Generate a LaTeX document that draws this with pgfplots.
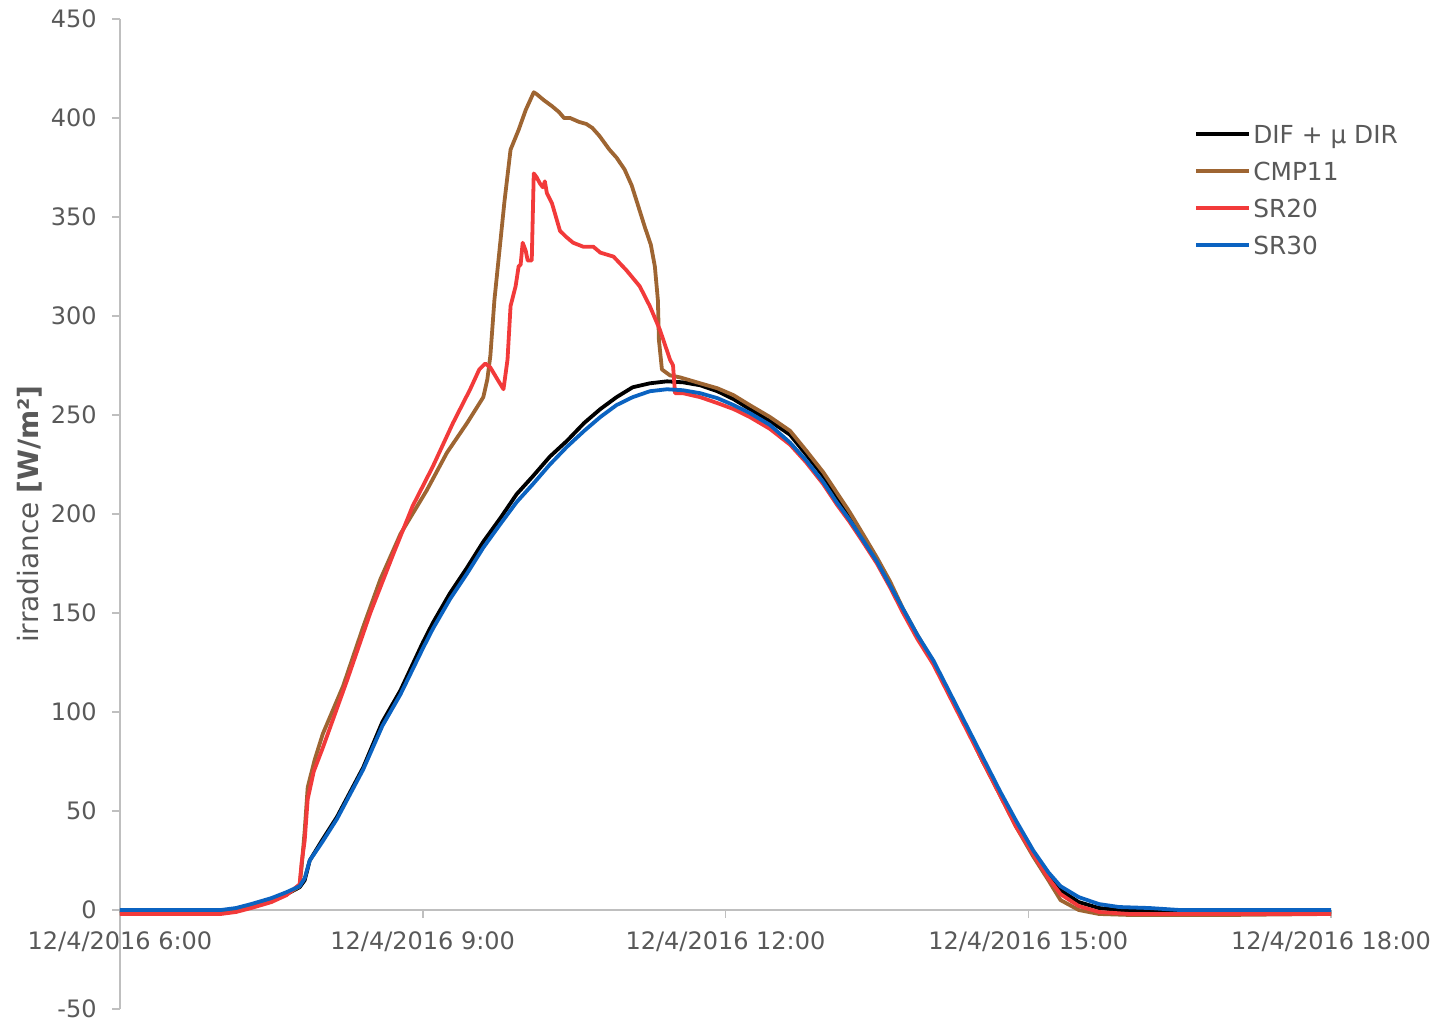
\documentclass[border=0pt]{standalone}
\usepackage{pgfplots}
\pgfplotsset{compat=1.18}
\usepackage{fontspec}
\setmainfont{DejaVu Sans}
\definecolor{txtgray}{HTML}{595959}
\definecolor{axgray}{HTML}{BFBFBF}
\definecolor{cmpbrown}{HTML}{9E6532}
\definecolor{srred}{HTML}{F23A3A}
\definecolor{srblue}{HTML}{0B63C1}
\begin{document}
\begin{tikzpicture}
\begin{axis}[
  name=ax,
  scale only axis,
  width=605.5pt, height=495pt,
  xmin=6, xmax=18, ymin=-50, ymax=450,
  axis x line*=middle, axis y line*=left,
  hide obscured x ticks=false,
  axis line style={axgray, line width=0.75pt},
  xtick={6,9,12,15,18},
  xticklabels={12/4/2016 6:00,12/4/2016 9:00,12/4/2016 12:00,12/4/2016 15:00,12/4/2016 18:00},
  ytick={-50,0,50,100,150,200,250,300,350,400,450},
  yticklabels={-50,0,50,100,150,200,250,300,350,400,450},
  tick align=outside,
  major tick length=4pt,
  tick style={axgray, line width=0.75pt},
  every tick label/.append style={text=txtgray, font=\fontsize{12}{14}\selectfont},
  xticklabel style={anchor=north, inner sep=0pt, yshift=-6.5pt},
  yticklabel style={anchor=east, inner sep=0pt, xshift=-7.5pt},
  every axis y label/.style={at={(rel axis cs:0,0.5)}, xshift=-45pt, rotate=90, anchor=center},
  ylabel={irradiance \textbf{[W/m²]}},
  ylabel style={text=txtgray, font=\fontsize{14}{16}\selectfont},
  legend style={at={(rel axis cs:0.882,0.897)}, anchor=north west, draw=none, fill=none,
    font=\fontsize{12.4}{14}\selectfont, text=txtgray, row sep=9.5pt,
    nodes={inner xsep=1pt, inner ysep=0pt, text height=9pt, text depth=0pt}},
  legend cell align=left,
  legend image code/.code={\draw[#1] (0pt,0pt) -- (26.5pt,0pt);},
  every axis plot/.append style={line width=1.9pt, line join=round},
]
\addplot[black] coordinates {
(6.0,-0.5) (7.0,-0.5) (7.15,0.5) (7.3,2.5) (7.5,5) (7.65,8) (7.78,11.5) (7.83,15) (7.88,25)
(8.0,35) (8.15,47) (8.41,72) (8.6,95) (8.78,111) (9.0,135) (9.1,145) (9.27,160) (9.44,173)
(9.6,186) (9.77,198) (9.93,210) (10.09,219) (10.26,229) (10.43,237) (10.6,246) (10.76,253)
(10.92,259) (11.08,264) (11.25,266) (11.42,267) (11.58,266.5) (11.75,265) (11.92,262)
(12.08,258) (12.24,253) (12.44,247) (12.64,240) (12.8,230) (12.97,219) (13.1,209) (13.23,199)
(13.36,188) (13.5,177) (13.63,164) (13.76,151) (13.9,138) (14.06,125) (14.22,109) (14.39,92)
(14.55,75) (14.72,59) (14.88,43) (15.05,29) (15.2,18) (15.32,10) (15.5,4) (15.7,1) (16.0,-0.5)
(17.0,-1) (18.0,-1)
};
\addlegendentry{DIF + μ DIR}
\addplot[cmpbrown] coordinates {
(6.0,-1.5) (7.0,-1.5) (7.15,-0.5) (7.3,1.5) (7.5,4.5) (7.65,8) (7.78,12) (7.80,22) (7.83,40)
(7.86,62) (7.93,76) (8.01,89) (8.21,113) (8.41,143) (8.58,167) (8.78,190) (9.04,212) (9.24,231)
(9.44,246) (9.60,259) (9.64,268) (9.67,280) (9.71,308) (9.76,333) (9.81,358) (9.87,384)
(9.95,394) (10.02,404) (10.10,413) (10.13,412) (10.2,409) (10.28,406) (10.35,403) (10.4,400)
(10.46,400) (10.55,398) (10.62,397) (10.68,395) (10.75,391) (10.85,384) (10.92,380) (11.0,374)
(11.07,366) (11.12,358) (11.2,345) (11.26,336) (11.3,325) (11.33,308) (11.34,288) (11.37,273)
(11.45,270) (11.55,269) (11.75,266) (11.92,263.5) (12.08,260) (12.24,255) (12.44,249)
(12.64,242) (12.8,232) (12.97,221) (13.1,211) (13.23,201) (13.36,190) (13.5,178) (13.63,166)
(13.76,152) (13.9,139) (14.06,125) (14.22,109) (14.39,92) (14.55,75) (14.72,58) (14.88,42)
(15.05,27) (15.2,15) (15.32,5) (15.5,0) (15.7,-2) (16.0,-2.5) (17.0,-2.5) (18.0,-2)
};
\addlegendentry{CMP11}
\addplot[srred] coordinates {
(6.0,-2) (7.0,-2) (7.15,-1) (7.3,1) (7.5,4) (7.65,7.5) (7.78,13) (7.80,24) (7.83,35) (7.86,56)
(7.92,70) (8.01,82) (8.25,116) (8.48,150) (8.71,180) (8.90,204) (9.10,224) (9.30,246) (9.47,263)
(9.56,273) (9.62,276) (9.67,274) (9.74,268) (9.80,263) (9.84,278) (9.87,305) (9.92,315)
(9.95,325) (9.97,326) (9.99,337) (10.02,333) (10.04,328) (10.08,328) (10.10,372) (10.13,370)
(10.16,367) (10.19,365) (10.21,368) (10.23,362) (10.28,357) (10.32,350) (10.36,343) (10.42,340)
(10.49,337) (10.59,335) (10.69,335) (10.76,332) (10.89,330) (11.02,323) (11.15,315) (11.25,305)
(11.35,293) (11.45,278) (11.48,275) (11.50,261) (11.58,261) (11.75,259) (11.92,256) (12.08,253)
(12.24,249) (12.44,243) (12.64,235) (12.8,226) (12.97,215) (13.1,205) (13.23,196) (13.36,186)
(13.5,175) (13.63,163) (13.76,150) (13.9,137) (14.06,124) (14.22,108) (14.39,91) (14.55,75)
(14.72,58) (14.88,42) (15.05,28) (15.2,16) (15.32,8) (15.5,2) (15.7,-1) (16.0,-2) (17.0,-2)
(18.0,-2)
};
\addlegendentry{SR20}
\addplot[srblue] coordinates {
(6.0,0) (7.0,0) (7.15,1) (7.3,3) (7.5,6) (7.65,9) (7.78,12) (7.83,16) (7.88,25) (8.0,34)
(8.15,46) (8.41,71) (8.6,93) (8.78,109) (9.0,132) (9.1,142) (9.27,157) (9.44,170) (9.6,183)
(9.77,195) (9.93,206) (10.09,215) (10.26,225) (10.43,234) (10.6,242) (10.76,249) (10.92,255)
(11.08,259) (11.25,262) (11.42,263) (11.58,262.5) (11.75,261) (11.92,258.5) (12.08,255)
(12.24,251) (12.44,245) (12.64,236) (12.8,227) (12.97,216) (13.1,206) (13.23,197) (13.36,187)
(13.5,176) (13.63,164) (13.76,152) (13.9,139) (14.06,126) (14.22,110) (14.39,93) (14.55,77)
(14.72,60) (14.88,45) (15.05,30) (15.2,19) (15.32,12) (15.5,6.5) (15.7,3) (15.9,1.5) (16.2,1)
(16.5,0) (18.0,0)
};
\addlegendentry{SR30}
\end{axis}
\pgfresetboundingbox
\path[use as bounding box] ([xshift=-60pt,yshift=-6.5pt]ax.south west) rectangle ([xshift=61pt,yshift=9.5pt]ax.north east);
\end{tikzpicture}
\end{document}
